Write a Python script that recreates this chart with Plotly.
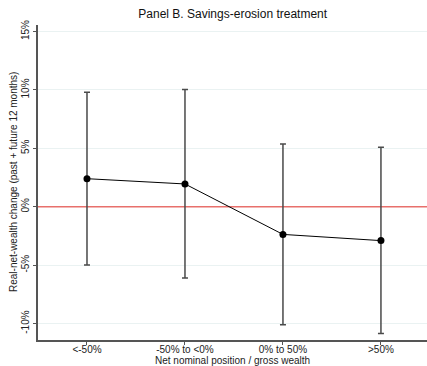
import plotly.graph_objects as go

categories = ["<-50%", "-50% to <0%", "0% to 50%", ">50%"]
estimate = [2.4, 1.95, -2.37, -2.9]
ci_upper = [9.8, 10.04, 5.38, 5.09]
ci_lower = [-4.98, -6.1, -10.1, -10.85]
y_ticks = [-10, -5, 0, 5, 10, 15]
y_tick_labels = ["-10%", "-5%", "0%", "5%", "10%", "15%"]

xpos = list(range(len(categories)))
err_plus = [u - e for u, e in zip(ci_upper, estimate)]
err_minus = [e - l for e, l in zip(estimate, ci_lower)]
x_range = [-0.5, 3.47]

FONT = "Liberation Sans, Arial, sans-serif"

fig = go.Figure()

# zero reference line
fig.add_trace(go.Scatter(
    x=x_range, y=[0, 0], mode="lines",
    line=dict(color="#e8706c", width=1.5),
    hoverinfo="skip", showlegend=False))

# confidence intervals
fig.add_trace(go.Scatter(
    x=xpos, y=estimate, mode="markers",
    marker=dict(size=0.1, color="rgba(0,0,0,0)"),
    error_y=dict(type="data", symmetric=False, array=err_plus, arrayminus=err_minus,
                 color="#4a4a4a", thickness=1.5, width=3),
    hoverinfo="skip", showlegend=False))

# point estimates
fig.add_trace(go.Scatter(
    x=xpos, y=estimate, mode="lines+markers",
    line=dict(color="black", width=1),
    marker=dict(size=7, color="black"),
    showlegend=False))

fig.update_layout(
    width=427, height=366,
    margin=dict(l=38, r=0, t=25, b=26),
    paper_bgcolor="white", plot_bgcolor="white",
    font=dict(family=FONT, size=10, color="#222"),
    title=dict(text="Panel B. Savings-erosion treatment", x=0.545, xanchor="center",
               y=0.962, yanchor="middle", font=dict(size=12, color="#111")),
)

fig.update_xaxes(
    range=x_range, tickvals=xpos, ticktext=categories,
    showgrid=False, zeroline=False,
    showline=True, linecolor="#555", linewidth=1.5,
    ticks="outside", ticklen=3, tickcolor="#555", tickwidth=1,
    ticklabelstandoff=-4,
    tickfont=dict(size=10, color="#222"),
)

fig.update_yaxes(
    range=[-11.41, 15.56], tickvals=y_ticks, ticktext=y_tick_labels,
    tickangle=-90,
    showgrid=True, gridcolor="#eaf2f2", gridwidth=1, zeroline=False,
    showline=True, linecolor="#555", linewidth=1.5,
    ticks="outside", ticklen=3, tickcolor="#555", tickwidth=1,
    tickfont=dict(size=10, color="#222"),
)

fig.add_annotation(
    text="Real-net-wealth change (past + future 12 months)",
    xref="paper", yref="paper", x=(13 - 38) / 389, y=(340 - 182) / 315,
    xanchor="center", yanchor="middle", textangle=-90, showarrow=False,
    font=dict(size=10, color="#222"))

fig.add_annotation(
    text="Net nominal position / gross wealth",
    xref="paper", yref="paper", x=(233 - 38) / 389, y=-(360 - 340) / 315,
    xanchor="center", yanchor="middle", showarrow=False,
    font=dict(size=10, color="#222"))

fig.write_html("out.html")
